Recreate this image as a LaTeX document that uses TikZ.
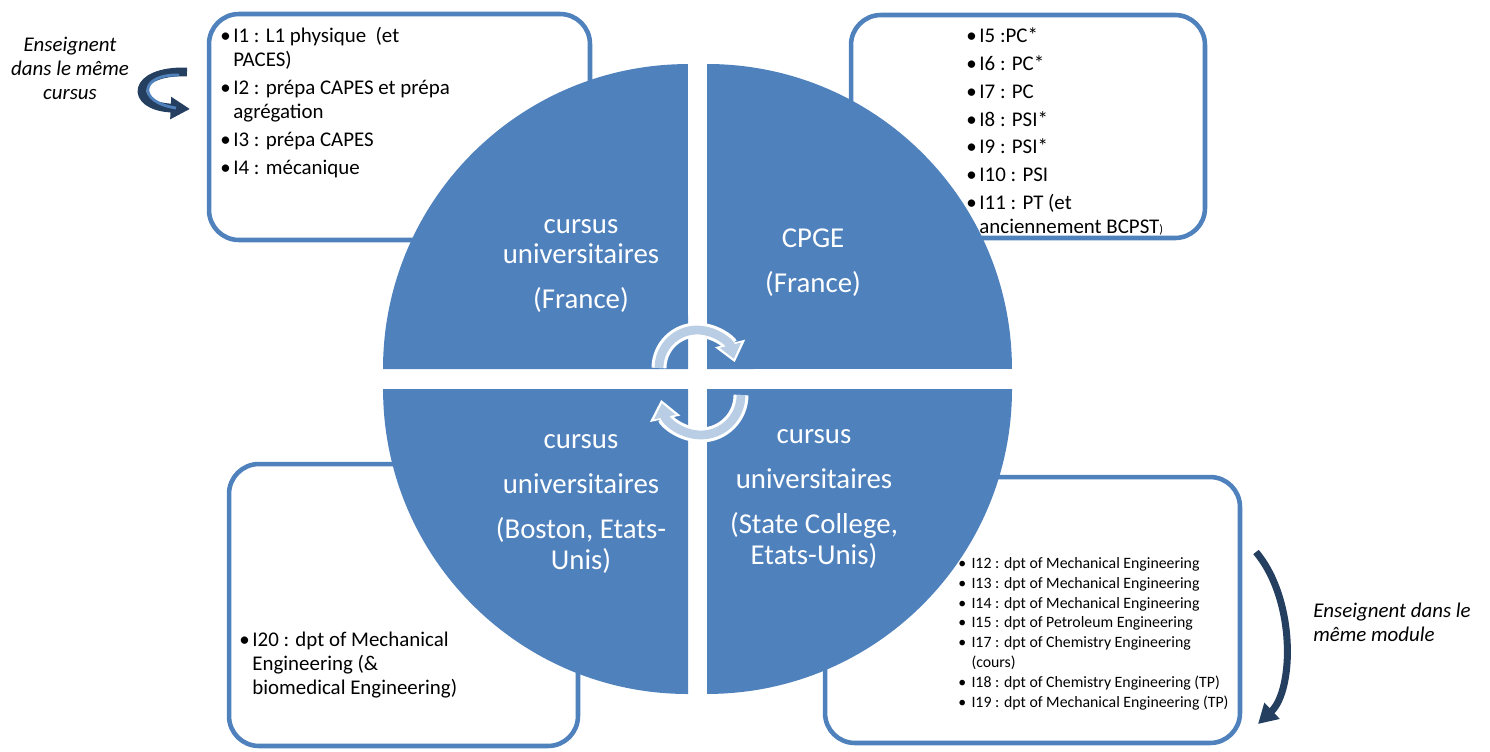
\documentclass[tikz,border=0pt]{standalone}
\usepackage{fontspec}
\setmainfont{Carlito}
\usepackage{xcolor}
\usepackage{tikz}
\usetikzlibrary{arrows.meta, positioning, calc}

\definecolor{quadblue}{HTML}{4F81BD}
\definecolor{cyclelight}{HTML}{B9CDE5}
\definecolor{arrownavy}{HTML}{243F60}

\newcommand{\bul}{\textbullet\hspace{1.5pt}}
\newcommand{\ind}{\phantom{\textbullet}\hspace{1.5pt}}
\newcommand{\sbul}{\textbullet\hspace{3pt}}
\newcommand{\sind}{\phantom{\textbullet}\hspace{3pt}}

\begin{document}
\begin{tikzpicture}[x=0.02cm, y=-0.02cm,
    listbox/.style={rectangle, rounded corners=17pt, draw=quadblue, line width=2.6pt, fill=white, inner sep=0pt},
    quadrant/.style={fill=quadblue},
    quadtext/.style={align=center, text=white, font=\fontsize{16.4}{17.6}\selectfont},
    listtext/.style={align=left, anchor=north west, inner sep=0pt, font=\fontsize{11.9}{13.6}\selectfont},
    smalllist/.style={align=left, anchor=north west, inner sep=0pt, font=\fontsize{9}{11.3}\selectfont},
    note/.style={inner sep=0pt, font=\fontsize{11.9}{13.6}\selectfont\itshape},
    cycleoutline/.style={white, line width=8.5pt, shorten >=-2pt, -{Triangle[length=11pt, width=17pt]}},
    cyclearrow/.style={cyclelight, line width=5pt, -{Triangle[length=8pt, width=12pt]}},
    bendarrow/.style={arrownavy, line width=4pt, -{Triangle[length=11pt, width=12pt]}}
]
\useasboundingbox (0,0) rectangle (1490,751);

% boxes behind the disc
\node[listbox, minimum width=7.62cm, minimum height=4.52cm] (boxfr) at (399.5,127) {};
\node[listbox, minimum width=7.08cm, minimum height=4.46cm] (boxcpge) at (1028,126.5) {};
\node[listbox, minimum width=8.3cm, minimum height=5.32cm] (boxsc) at (1032.5,610) {};
\node[listbox, minimum width=6.98cm, minimum height=5.64cm] (boxbos) at (403.5,605) {};

% the four quarters
\fill[quadrant] (688,369) -- (383,369) arc[start angle=180, end angle=90, radius=6.1cm] -- cycle;
\fill[quadrant] (707,369) -- (707,64) arc[start angle=90, end angle=0, radius=6.1cm] -- cycle;
\fill[quadrant] (707,389) -- (1012,389) arc[start angle=0, end angle=-90, radius=6.1cm] -- cycle;
\fill[quadrant] (688,389) -- (688,694) arc[start angle=-90, end angle=-180, radius=6.1cm] -- cycle;

\node[quadtext] (univfr) at (581,266) {cursus\\universitaires\\[8pt](France)};
\node[quadtext] (cpge) at (813,263) {CPGE\\[8pt](France)};
\node[quadtext] (univbos) at (581,504) {cursus\\[8pt]universitaires\\[8pt](Boston, Etats-\\Unis)};
\node[quadtext] (univsc) at (814,499) {cursus\\[8pt]universitaires\\[8pt](State College,\\Etats-Unis)};

% lists
\node[listtext] (listfr) at (220,27) {\bul I1 : L1 physique\ \ (et\\
\ind PACES)\\[2.3pt]
\bul I2 : prépa CAPES et prépa\\
\ind agrégation\\[2.3pt]
\bul I3 : prépa CAPES\\[2.3pt]
\bul I4 : mécanique};
\node[listtext] (listcpge) at (966,27) {\bul I5 :PC*\\[2.3pt]
\bul I6 : PC*\\[2.3pt]
\bul I7 : PC\\[2.3pt]
\bul I8 : PSI*\\[2.3pt]
\bul I9 : PSI*\\[2.3pt]
\bul I10 : PSI\\[2.3pt]
\bul I11 : PT (et\\
\ind anciennement BCPST{\fontsize{7}{8}\selectfont)}};
\node[smalllist] (listsc) at (958,557) {\sbul I12 : dpt of Mechanical Engineering\\
\sbul I13 : dpt of Mechanical Engineering\\
\sbul I14 : dpt of Mechanical Engineering\\
\sbul I15 : dpt of Petroleum Engineering\\
\sbul I17 : dpt of Chemistry Engineering\\
\sind (cours)\\
\sbul I18 : dpt of Chemistry Engineering (TP)\\
\sbul I19 : dpt of Mechanical Engineering (TP)};
\node[listtext] (listbos) at (239,632) {\bul I20 : dpt of Mechanical\\
\ind Engineering (\&\\
\ind biomedical Engineering)};

% side notes
\node[note, align=center] (notecursus) at (70,68) {Enseignent\\dans le même\\cursus};
\node[note, align=left, anchor=west] (notemodule) at (1313,622) {Enseignent dans le\\même module};

% cycle arrows in the middle
\coordinate (cyctop) at (659,368);
\coordinate (cycbot) at (741,395);
\draw[cycleoutline] (cyctop) arc[start angle=180, end angle=14, radius=0.76cm];
\draw[cyclearrow] (cyctop) arc[start angle=180, end angle=14, radius=0.76cm];
\draw[cycleoutline] (cycbot) arc[start angle=0, end angle=-168, radius=0.8cm];
\draw[cyclearrow] (cycbot) arc[start angle=0, end angle=-168, radius=0.8cm];

% bent arrows beside the notes
\coordinate (ltail) at (187,72);
\coordinate (lhead) at (190,109);
\draw[bendarrow, line width=5pt] (ltail) .. controls (132,70) and (128,106) .. (lhead);
\draw[quadblue, line width=1.6pt] ($(ltail)+(-8,3)$) .. controls (140,74) and (136,102) .. ($(lhead)+(-14,-1)$);
\coordinate (rtail) at (1256,552);
\coordinate (rhead) at (1258,724);
\draw[bendarrow] (rtail) .. controls (1296,600) and (1294,690) .. (rhead);
\end{tikzpicture}
\end{document}
